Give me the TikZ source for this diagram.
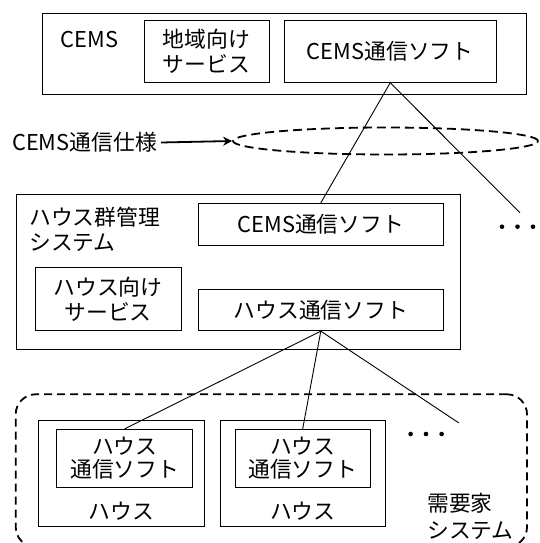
\documentclass[tikz,border=0pt]{standalone}
\usepackage{fontspec}
\setmainfont{Noto Sans CJK JP}
\usetikzlibrary{shapes.geometric,arrows.meta}
\newcommand\dfont{\fontsize{21.8}{25}\selectfont}
\begin{document}
\begin{tikzpicture}[x=1pt,y=-1pt,
  box/.style={draw,line width=0.9pt,inner sep=0pt,align=center,font=\dfont},
  lbl/.style={inner sep=0pt,align=left,font=\dfont},
  conn/.style={line width=0.9pt},
  dot/.style={fill=black}]
\useasboundingbox (0,0) rectangle (539,543);
% CEMS
\node[box,minimum width=484pt,minimum height=81pt] (cems) at (284.7,53.8) {};
\node[lbl] (cemslbl) at (89.5,40) {CEMS};
\node[box,minimum width=125pt,minimum height=62.3pt] (area) at (206.5,51.2) {地域向け\\サービス};
\node[box,minimum width=211.7pt,minimum height=62.3pt] (topcomm) at (390.2,51.2) {CEMS通信ソフト};
% spec
\node[draw,ellipse,inner sep=0pt,line width=1.8pt,dash pattern=on 9pt off 5pt,minimum width=305pt,minimum height=27pt] (specell) at (385.5,141) {};
\node[lbl,anchor=east,inner xsep=4pt] (speclbl) at (161,142.5) {CEMS通信仕様};
\draw[line width=1.8pt,-{Stealth[length=9pt,width=9pt]}] (speclbl.east) -- (specell.west);
% house group
\node[box,minimum width=443.3pt,minimum height=154.7pt] (group) at (238.35,271.65) {};
\node[lbl,anchor=west,font=\fontsize{21.8}{25}\selectfont] (grouplbl) at (29,229.2) {ハウス群管理\\システム};
\node[box,minimum width=245pt,minimum height=41.7pt] (gcomm) at (320.8,224.15) {CEMS通信ソフト};
\node[box,minimum width=245pt,minimum height=41.7pt] (hcomm) at (320.8,309.85) {ハウス通信ソフト};
\node[box,minimum width=146pt,minimum height=63.4pt] (hserv) at (108,299) {ハウス向け\\サービス};
% demand side
\node[draw,inner sep=0pt,rounded corners=20pt,line width=1.8pt,dash pattern=on 8pt off 5pt,minimum width=511.3pt,minimum height=152.7pt] (demand) at (271.35,470.65) {};
\node[lbl,anchor=west,font=\fontsize{21.8}{26.5}\selectfont] (demandlbl) at (427,516.5) {需要家\\システム};
\node[box,minimum width=166pt,minimum height=106pt] (h1) at (121.3,473.7) {};
\node[box,minimum width=136pt,minimum height=58pt,font=\fontsize{21.8}{22.5}\selectfont] (h1in) at (124.7,458.3) {ハウス\\通信ソフト};
\node[lbl] (h1lbl) at (121.3,510.7) {ハウス};
\node[box,minimum width=165.6pt,minimum height=106pt] (h2) at (302.8,473.7) {};
\node[box,minimum width=134.6pt,minimum height=58pt,font=\fontsize{21.8}{22.5}\selectfont] (h2in) at (302.7,458.3) {ハウス\\通信ソフト};
\node[lbl] (h2lbl) at (302.8,510.7) {ハウス};
% connectors
\coordinate (c1) at (520,212.7);
\coordinate (c2) at (458.8,422.9);
\draw[conn] (topcomm.south) -- (gcomm.north);
\draw[conn] (topcomm.south) -- (c1);
\draw[conn] (hcomm.south) -- (h1in.north);
\draw[conn] (hcomm.south) -- (h2in.north);
\draw[conn] (hcomm.south) -- (c2);
% dots
\foreach \x in {502,517.5,533} \fill[dot] (\x,226.7) circle (2.3pt);
\foreach \x in {410.6,426,441.6} \fill[dot] (\x,434) circle (2.3pt);
\end{tikzpicture}
\end{document}
